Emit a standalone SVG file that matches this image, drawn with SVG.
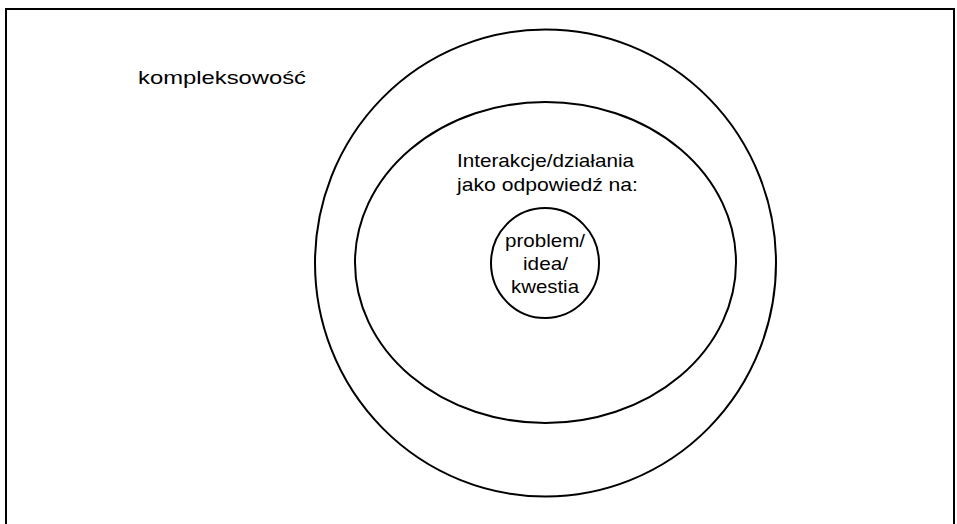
<svg xmlns="http://www.w3.org/2000/svg" width="957" height="524" viewBox="0 0 957 524">
  <style>
    .ring { fill: none; stroke: #000; stroke-width: 2; }
    .lbl { font-family: "Liberation Sans", Arial, sans-serif; font-size: 19px; fill: #000; }
  </style>
  <rect x="0" y="0" width="957" height="524" fill="#fff"/>
  <!-- frame (open at the bottom edge) -->
  <rect x="6" y="9" width="948" height="540" fill="none" stroke="#000" stroke-width="2"/>

  <g id="label-kompleksowosc">
    <text class="lbl" x="138" y="84" textLength="168" lengthAdjust="spacingAndGlyphs">kompleksowość</text>
  </g>

  <g id="outer-ring">
    <ellipse class="ring" cx="545.5" cy="263" rx="230.5" ry="233.5"/>
  </g>

  <g id="middle-ring">
    <ellipse class="ring" cx="545.5" cy="262.5" rx="190.5" ry="160.5"/>
    <text class="lbl" x="457" y="167" textLength="177" lengthAdjust="spacingAndGlyphs">Interakcje/działania</text>
    <text class="lbl" x="457" y="191" textLength="181" lengthAdjust="spacingAndGlyphs">jako odpowiedź na:</text>
  </g>

  <g id="core">
    <ellipse class="ring" cx="545" cy="263" rx="54" ry="55"/>
    <text class="lbl" x="505" y="247" textLength="80" lengthAdjust="spacingAndGlyphs">problem/</text>
    <text class="lbl" x="523" y="270" textLength="45" lengthAdjust="spacingAndGlyphs">idea/</text>
    <text class="lbl" x="511" y="293" textLength="68" lengthAdjust="spacingAndGlyphs">kwestia</text>
  </g>
</svg>
